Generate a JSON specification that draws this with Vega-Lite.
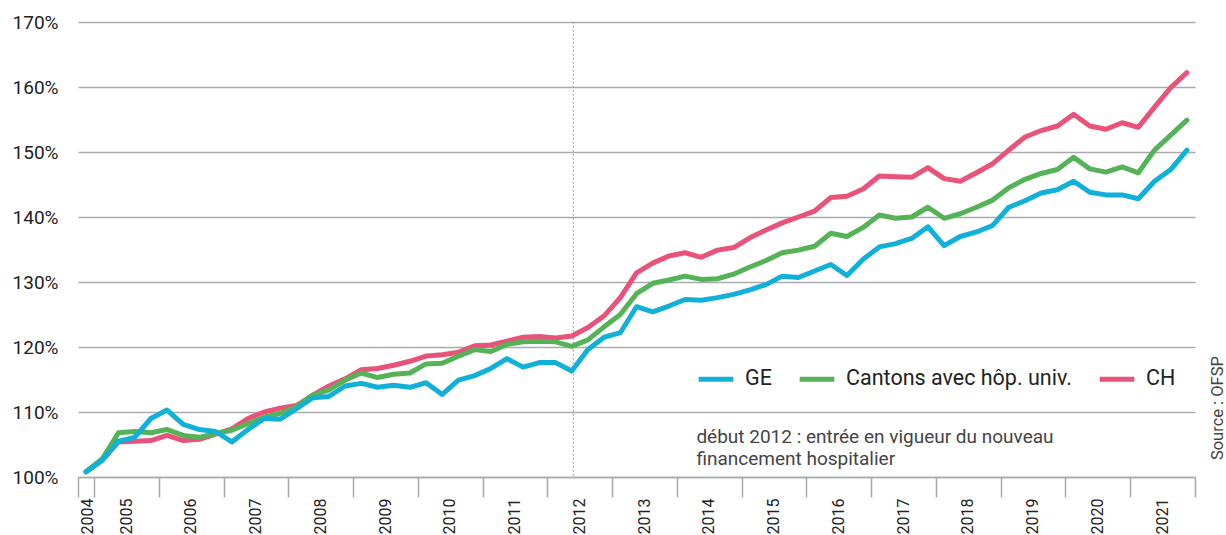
{
  "$schema": "https://vega.github.io/schema/vega-lite/v6.json",
  "width": 1117,
  "height": 455,
  "autosize": "none",
  "padding": {"left": 78, "top": 22, "right": 31, "bottom": 58},
  "background": "white",
  "config": {"font": "Roboto", "view": {"stroke": null}},
  "layer": [
    {
      "data": {"values": [{"t": 2012.4}]},
      "mark": {"type": "rule", "strokeDash": [1.5, 2.5], "color": "#9a9a9a", "strokeWidth": 1.2},
      "encoding": {"x": {"field": "t", "type": "quantitative", "scale": {"domain": [2004.75, 2022], "nice": false, "zero": false}}}
    },
    {
      "data": {"values": [
        {"t": 2004.875, "GE": 100.8, "CAN": 100.8, "CH": 100.8},
        {"t": 2005.125, "GE": 102.6, "CAN": 102.8, "CH": 102.6},
        {"t": 2005.375, "GE": 105.5, "CAN": 106.8, "CH": 105.4},
        {"t": 2005.625, "GE": 106.1, "CAN": 107.0, "CH": 105.5},
        {"t": 2005.875, "GE": 109.0, "CAN": 106.8, "CH": 105.6},
        {"t": 2006.125, "GE": 110.3, "CAN": 107.3, "CH": 106.4},
        {"t": 2006.375, "GE": 108.1, "CAN": 106.4, "CH": 105.6},
        {"t": 2006.625, "GE": 107.3, "CAN": 106.1, "CH": 105.8},
        {"t": 2006.875, "GE": 107.0, "CAN": 106.7, "CH": 106.6},
        {"t": 2007.125, "GE": 105.4, "CAN": 107.2, "CH": 107.4},
        {"t": 2007.375, "GE": 107.3, "CAN": 108.2, "CH": 109.0},
        {"t": 2007.625, "GE": 109.0, "CAN": 109.2, "CH": 110.0},
        {"t": 2007.875, "GE": 108.9, "CAN": 109.8, "CH": 110.6},
        {"t": 2008.125, "GE": 110.5, "CAN": 110.8, "CH": 111.0},
        {"t": 2008.375, "GE": 112.2, "CAN": 112.6, "CH": 112.6},
        {"t": 2008.625, "GE": 112.4, "CAN": 113.4, "CH": 114.0},
        {"t": 2008.875, "GE": 114.0, "CAN": 114.9, "CH": 115.1},
        {"t": 2009.125, "GE": 114.4, "CAN": 116.0, "CH": 116.5},
        {"t": 2009.375, "GE": 113.8, "CAN": 115.3, "CH": 116.7},
        {"t": 2009.625, "GE": 114.1, "CAN": 115.8, "CH": 117.2},
        {"t": 2009.875, "GE": 113.8, "CAN": 116.0, "CH": 117.8},
        {"t": 2010.125, "GE": 114.5, "CAN": 117.4, "CH": 118.6},
        {"t": 2010.375, "GE": 112.7, "CAN": 117.5, "CH": 118.8},
        {"t": 2010.625, "GE": 114.9, "CAN": 118.6, "CH": 119.2},
        {"t": 2010.875, "GE": 115.6, "CAN": 119.6, "CH": 120.2},
        {"t": 2011.125, "GE": 116.7, "CAN": 119.3, "CH": 120.3},
        {"t": 2011.375, "GE": 118.2, "CAN": 120.4, "CH": 120.9},
        {"t": 2011.625, "GE": 116.9, "CAN": 120.8, "CH": 121.5},
        {"t": 2011.875, "GE": 117.6, "CAN": 120.9, "CH": 121.6},
        {"t": 2012.125, "GE": 117.6, "CAN": 120.8, "CH": 121.4},
        {"t": 2012.375, "GE": 116.3, "CAN": 120.1, "CH": 121.7},
        {"t": 2012.625, "GE": 119.6, "CAN": 121.1, "CH": 123.0},
        {"t": 2012.875, "GE": 121.5, "CAN": 123.1, "CH": 124.8},
        {"t": 2013.125, "GE": 122.2, "CAN": 125.0, "CH": 127.6},
        {"t": 2013.375, "GE": 126.2, "CAN": 128.2, "CH": 131.4},
        {"t": 2013.625, "GE": 125.4, "CAN": 129.8, "CH": 132.9},
        {"t": 2013.875, "GE": 126.3, "CAN": 130.3, "CH": 134.0},
        {"t": 2014.125, "GE": 127.3, "CAN": 130.9, "CH": 134.5},
        {"t": 2014.375, "GE": 127.2, "CAN": 130.4, "CH": 133.8},
        {"t": 2014.625, "GE": 127.6, "CAN": 130.5, "CH": 134.9},
        {"t": 2014.875, "GE": 128.1, "CAN": 131.2, "CH": 135.3},
        {"t": 2015.125, "GE": 128.8, "CAN": 132.3, "CH": 136.8},
        {"t": 2015.375, "GE": 129.6, "CAN": 133.3, "CH": 138.0},
        {"t": 2015.625, "GE": 130.9, "CAN": 134.5, "CH": 139.1},
        {"t": 2015.875, "GE": 130.7, "CAN": 134.9, "CH": 140.0},
        {"t": 2016.125, "GE": 131.7, "CAN": 135.5, "CH": 140.9},
        {"t": 2016.375, "GE": 132.7, "CAN": 137.5, "CH": 143.0},
        {"t": 2016.625, "GE": 131.0, "CAN": 137.0, "CH": 143.2},
        {"t": 2016.875, "GE": 133.5, "CAN": 138.4, "CH": 144.3},
        {"t": 2017.125, "GE": 135.4, "CAN": 140.3, "CH": 146.3},
        {"t": 2017.375, "GE": 135.9, "CAN": 139.8, "CH": 146.2},
        {"t": 2017.625, "GE": 136.7, "CAN": 140.0, "CH": 146.1},
        {"t": 2017.875, "GE": 138.5, "CAN": 141.5, "CH": 147.6},
        {"t": 2018.125, "GE": 135.6, "CAN": 139.8, "CH": 145.9},
        {"t": 2018.375, "GE": 137.0, "CAN": 140.5, "CH": 145.5},
        {"t": 2018.625, "GE": 137.7, "CAN": 141.5, "CH": 146.8},
        {"t": 2018.875, "GE": 138.7, "CAN": 142.6, "CH": 148.2},
        {"t": 2019.125, "GE": 141.5, "CAN": 144.5, "CH": 150.3},
        {"t": 2019.375, "GE": 142.5, "CAN": 145.8, "CH": 152.3},
        {"t": 2019.625, "GE": 143.7, "CAN": 146.7, "CH": 153.3},
        {"t": 2019.875, "GE": 144.2, "CAN": 147.3, "CH": 154.0},
        {"t": 2020.125, "GE": 145.5, "CAN": 149.2, "CH": 155.8},
        {"t": 2020.375, "GE": 143.8, "CAN": 147.4, "CH": 154.0},
        {"t": 2020.625, "GE": 143.4, "CAN": 146.9, "CH": 153.5},
        {"t": 2020.875, "GE": 143.4, "CAN": 147.7, "CH": 154.5},
        {"t": 2021.125, "GE": 142.8, "CAN": 146.8, "CH": 153.8},
        {"t": 2021.375, "GE": 145.5, "CAN": 150.3, "CH": 156.9},
        {"t": 2021.625, "GE": 147.3, "CAN": 152.6, "CH": 159.9},
        {"t": 2021.875, "GE": 150.3, "CAN": 154.9, "CH": 162.2}
      ]},
      "transform": [{"fold": ["CH", "CAN", "GE"], "as": ["serie", "v"]}],
      "mark": {"type": "line", "strokeWidth": 5, "strokeCap": "round", "strokeJoin": "round"},
      "encoding": {
        "x": {
          "field": "t", "type": "quantitative",
          "scale": {"domain": [2004.75, 2022], "nice": false, "zero": false},
          "axis": {
            "title": null,
            "values": [2004.75, 2005, 2006, 2007, 2008, 2009, 2010, 2011, 2012, 2013, 2014, 2015, 2016, 2017, 2018, 2019, 2020, 2021, 2022],
            "labelExpr": "datum.value >= 2022 ? '' : '' + floor(datum.value)",
            "labelAngle": 270,
            "labelAlign": "right",
            "labelBaseline": "middle",
            "labelOffset": {"condition": {"test": "datum.value < 2005", "value": 9}, "value": 32},
            "labelPadding": 1,
            "labelFontSize": 16,
            "labelColor": "#222222",
            "labelOverlap": false,
            "labelFlush": false,
            "labelBound": false,
            "tickSize": 20,
            "tickColor": "#a8aab0",
            "tickWidth": 1.5,
            "domainColor": "#a8aab0",
            "domainWidth": 1.5,
            "grid": false
          }
        },
        "y": {
          "field": "v", "type": "quantitative",
          "scale": {"domain": [100, 170], "nice": false, "zero": false},
          "axis": {
            "title": null,
            "values": [100, 110, 120, 130, 140, 150, 160, 170],
            "labelExpr": "datum.value + '%'",
            "grid": true,
            "gridColor": "#a8aab0",
            "gridWidth": 1.3,
            "ticks": false,
            "domain": false,
            "labelPadding": 20,
            "labelFontSize": 19,
            "labelColor": "#222222"
          }
        },
        "color": {
          "field": "serie", "type": "nominal",
          "scale": {"domain": ["GE", "CAN", "CH"], "range": ["#10b0d8", "#55b357", "#e9537a"]},
          "legend": {
            "orient": "none",
            "legendX": 618,
            "legendY": 337,
            "direction": "horizontal",
            "title": null,
            "symbolType": "stroke",
            "symbolSize": 1200,
            "symbolStrokeWidth": 5,
            "labelFontSize": 21.5,
            "labelLimit": 0,
            "labelColor": "#222222",
            "labelOffset": 9,
            "columnPadding": 17,
            "labelExpr": "datum.label == 'CAN' ? 'Cantons avec hôp. univ.' : datum.label"
          }
        }
      }
    },
    {
      "data": {"values": [{"tx": 2014.3, "ty": 105.2, "note": ["début 2012 : entrée en vigueur du nouveau", "financement hospitalier"]}]},
      "mark": {"type": "text", "align": "left", "baseline": "alphabetic", "fontSize": 19, "lineHeight": 22, "color": "#444444"},
      "encoding": {
        "x": {"field": "tx", "type": "quantitative"},
        "y": {"field": "ty", "type": "quantitative"},
        "text": {"field": "note"}
      }
    },
    {
      "data": {"values": [{"tx": 2022.35, "ty": 102.6, "note": "Source : OFSP"}]},
      "mark": {"type": "text", "align": "left", "baseline": "middle", "angle": 270, "fontSize": 16.5, "color": "#444444"},
      "encoding": {
        "x": {"field": "tx", "type": "quantitative"},
        "y": {"field": "ty", "type": "quantitative"},
        "text": {"field": "note"}
      }
    }
  ]
}
